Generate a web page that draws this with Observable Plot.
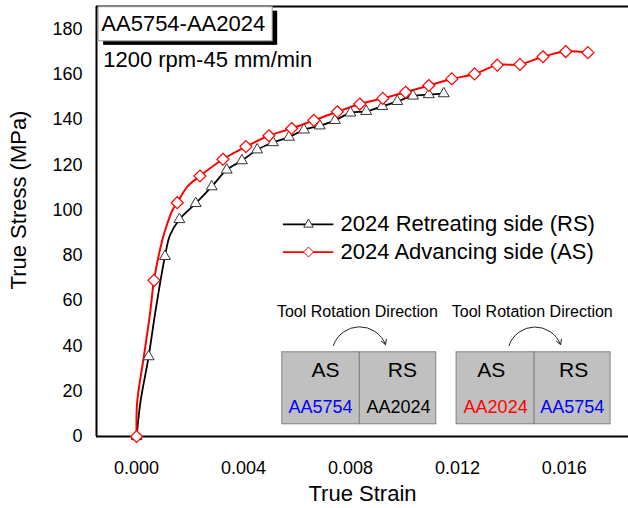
<!DOCTYPE html>
<html><head><meta charset="utf-8">
<script src="https://cdn.jsdelivr.net/npm/d3@7"></script>
<script src="https://cdn.jsdelivr.net/npm/@observablehq/plot@0.6"></script>
<style>body{margin:0;background:#fff}</style>
</head><body><div id="chart"></div>
<script>
// Advancing side (AS) markers
const asStrain = [0, 0.00065, 0.00152, 0.00237, 0.00323, 0.00409, 0.00495, 0.00580, 0.00663, 0.00751, 0.00835, 0.00921, 0.01006, 0.01093, 0.01179, 0.01264, 0.01349, 0.01434, 0.0152, 0.01605, 0.01688];
const asStress = [0, 69, 103.3, 115.1, 122.5, 128.1, 132.9, 136.1, 139.7, 143.5, 146.9, 149.4, 152.1, 155.1, 158.0, 160.2, 164.1, 164.4, 167.8, 170.1, 169.6];
// extra curve points for AS line (elastic region)
const asLineStrain = [0.00002, 0.00028, 0.00052, 0.00096, 0.00115, 0.00134, 0.0019];
const asLineStress = [15, 36, 56, 86.7, 94.1, 100, 110.4];
// Retreating side (RS) markers
const rsStrain = [0, 0.00045, 0.00106, 0.0016, 0.00221, 0.00281, 0.00337, 0.00394, 0.00451, 0.0051, 0.0057, 0.00626, 0.00685, 0.00742, 0.0080, 0.00859, 0.00919, 0.00975, 0.01034, 0.01093, 0.01149];
const rsStress = [0, 35.3, 79.6, 95.9, 103, 110.4, 117.8, 121.9, 126.7, 129.9, 132.3, 135.5, 137.3, 139.7, 143.0, 143.7, 145.9, 148.1, 150.5, 151.1, 151.5];
const rsLineStrain = [0.00015, 0.00071, 0.00125];
const rsLineStress = [15.7, 55.7, 89];

const xTicks = [0, 0.004, 0.008, 0.012, 0.016];
const yTicks = [0, 20, 40, 60, 80, 100, 120, 140, 160, 180];
const seriesNames = ["2024 Retreating side (RS)", "2024 Advancing side (AS)"];

const toPts = (xs, ys) => xs.map((x, i) => ({x, y: ys[i]}));
const asMarks = toPts(asStrain, asStress);
const rsMarks = toPts(rsStrain, rsStress);
const asLine = asMarks.concat(toPts(asLineStrain, asLineStress)).sort((a, b) => a.x - b.x);
const rsLine = rsMarks.concat(toPts(rsLineStrain, rsLineStress)).sort((a, b) => a.x - b.x);

// annotation positions (data units)
const legendRows = [
  {name: seriesNames[0], y: 93.7, stroke: "#000", mstroke: "#333", symbol: "triangle2"},
  {name: seriesNames[1], y: 81.5, stroke: "#ff0000", mstroke: "#ff0000", symbol: "diamond2"}
];
const boxes = [
  {x1: 0.00545, x2: 0.00835}, {x1: 0.00835, x2: 0.01121},
  {x1: 0.01197, x2: 0.01489}, {x1: 0.01489, x2: 0.01773}
];
const sideLabels = [
  {x: 0.00707, t: "AS"}, {x: 0.00994, t: "RS"}, {x: 0.01327, t: "AS"}, {x: 0.01635, t: "RS"}
];
const alloyLabels = [
  {x: 0.00688, t: "AA5754", c: "#0000ff"}, {x: 0.0098, t: "AA2024", c: "#000"},
  {x: 0.01343, t: "AA2024", c: "#ff0000"}, {x: 0.0163, t: "AA5754", c: "#0000ff"}
];
const rotLabels = [{x: 0.00826}, {x: 0.0148}];
const arrows = [{x1: 0.00736, x2: 0.00931}, {x1: 0.01393, x2: 0.01586}];
const fmt = d3.format(".3f");

const chart = Plot.plot({
  width: 628, height: 508,
  marginLeft: 96, marginRight: 0, marginTop: 6, marginBottom: 72,
  x: {domain: [-0.0015, 0.0184], axis: null},
  y: {domain: [0, 190], axis: null},
  style: {fontFamily: "'Liberation Sans', Arial, sans-serif", fontSize: "18px", background: "white", color: "black"},
  marks: [
    // tick labels (drawn via scales)
    Plot.text(xTicks, {x: d => d, y: 0, text: d => fmt(d), dy: 32, fontSize: 18}),
    Plot.text(yTicks, {x: -0.0015, y: d => d, text: d => String(d), dx: -14, textAnchor: "end", fontSize: 18}),
    Plot.text(["True Strain"], {x: 0.00845, y: 0, dy: 57, fontSize: 22}),
    Plot.text(["True Stress (MPa)"], {x: -0.0015, y: 104.5, rotate: -90, dx: -78, fontSize: 22}),
    // frame
    Plot.ruleY([0, 190], {stroke: "black", strokeWidth: 2}),
    Plot.ruleX([-0.0015], {stroke: "black", strokeWidth: 2}),
    // title box
    Plot.rect([0], {x1: -0.00142, x2: 0.00509, y1: 174.6, y2: 189.7, fill: "black", dx: 5, dy: 4}),
    Plot.rect([0], {x1: -0.00142, x2: 0.00509, y1: 174.6, y2: 189.7, fill: "white", stroke: "#999", strokeWidth: 1}),
    Plot.text(["AA5754-AA2024"], {x: -0.00132, y: 182.2, textAnchor: "start", fontSize: 22}),
    Plot.text(["1200 rpm-45 mm/min"], {x: -0.00125, y: 166.6, textAnchor: "start", fontSize: 22}),
    // curves
    Plot.line(rsLine, {x: "x", y: "y", stroke: "black", strokeWidth: 1.8, curve: "catmull-rom"}),
    Plot.line(asLine, {x: "x", y: "y", stroke: "#ff0000", strokeWidth: 2, curve: "catmull-rom"}),
    Plot.dot(rsMarks, {x: "x", y: "y", symbol: "triangle2", r: 5.2, stroke: "#333", strokeWidth: 1, fill: "white"}),
    Plot.dot(asMarks, {x: "x", y: "y", symbol: "diamond2", r: 5.4, stroke: "#ff0000", strokeWidth: 1.2, fill: "white"}),
    // legend
    Plot.ruleY(legendRows, {y: "y", x1: 0.00549, x2: 0.00738, stroke: "stroke", strokeWidth: 1.8}),
    Plot.dot(legendRows, {x: 0.00643, y: "y", symbol: "symbol", r: 4.5, stroke: "mstroke", fill: "white", strokeWidth: 1}),
    Plot.text(legendRows, {x: 0.00763, y: "y", text: "name", textAnchor: "start", fontSize: 22}),
    // tool rotation diagrams
    Plot.rect(boxes, {x1: "x1", x2: "x2", y1: 5.4, y2: 37.2, fill: "#c0c0c0", stroke: "#808080", strokeWidth: 1}),
    Plot.text(sideLabels, {x: "x", y: 29.1, text: "t", fontSize: 21}),
    Plot.text(alloyLabels, {x: "x", y: 12.8, text: "t", fill: "c", fontSize: 18}),
    Plot.text(rotLabels, {x: "x", y: 54.9, text: () => "Tool Rotation Direction", fontSize: 16}),
    Plot.arrow(arrows, {x1: "x1", x2: "x2", y1: 40.2, y2: 40.6, bend: 70, headLength: 8, stroke: "#222", strokeWidth: 1})
  ]
});
document.getElementById("chart").appendChild(chart);
</script>
</body></html>
